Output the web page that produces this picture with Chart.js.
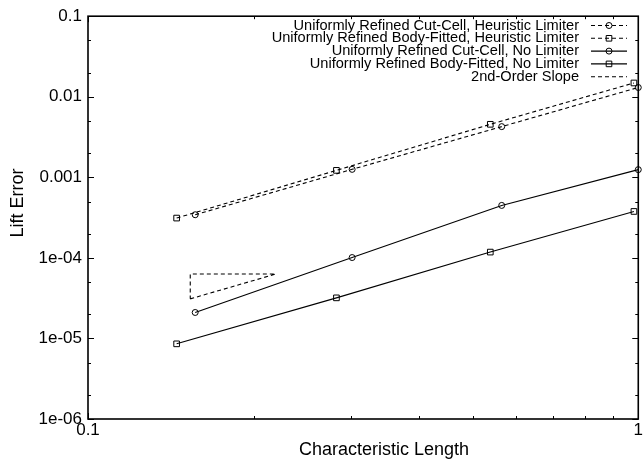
<!DOCTYPE html>
<html>
<head>
<meta charset="utf-8">
<script src="https://cdn.jsdelivr.net/npm/chart.js@4/dist/chart.umd.min.js"></script>
<style>
  html, body { margin: 0; padding: 0; background: #fff; }
  #wrap { width: 644px; height: 460px; }
</style>
</head>
<body>
<div id="wrap"><canvas id="lift-chart" width="644" height="460"></canvas></div>
<script>
// Characteristic length of each mesh (cut-cell and body-fitted runs)
const xCutCell = [0.1566, 0.302, 0.5647, 1.0];
const xBodyFitted = [0.1449, 0.2828, 0.5384, 0.982];

// Lift error per run
const liftCutCellHeuristic = [3.43e-4, 1.256e-3, 4.26e-3, 1.303e-2];
const liftBodyFittedHeuristic = [3.12e-4, 1.22e-3, 4.55e-3, 1.483e-2];
const liftCutCellNoLimiter = [2.1e-5, 1.01e-4, 4.48e-4, 1.245e-3];
const liftBodyFittedNoLimiter = [8.57e-6, 3.19e-5, 1.18e-4, 3.77e-4];

// Reference triangle for second order convergence
const slopeX = [0.1534, 0.2194, 0.1534, 0.1534];
const slopeY = [3.1e-5, 6.3e-5, 6.3e-5, 3.1e-5];

const seriesLabels = [
    'Uniformly Refined Cut-Cell, Heuristic Limiter',
    'Uniformly Refined Body-Fitted, Heuristic Limiter',
    'Uniformly Refined Cut-Cell, No Limiter',
    'Uniformly Refined Body-Fitted, No Limiter',
    '2nd-Order Slope'
];

// Axis ticks
const xTickValues = [0.1, 1];
const xTickLabels = ['0.1', '1'];
const yTickValues = [1e-6, 1e-5, 1e-4, 1e-3, 1e-2, 1e-1];
const yTickLabels = ['1e-06', '1e-05', '1e-04', '0.001', '0.01', '0.1'];
const xMinorMultiples = [2, 3, 4, 5, 6, 7, 8, 9];
const yMinorMultiples = [2, 5];

const FONT = "'Liberation Sans', Arial, Helvetica, sans-serif";
const DASH = [4, 3];

function toPoints(xs, ys) {
    return xs.map((x, i) => ({ x: x, y: ys[i] }));
}

function makeSeries(label, xs, ys, style, dashed) {
    return {
        label: label,
        data: toPoints(xs, ys),
        showLine: true,
        borderColor: '#000',
        borderWidth: 1.1,
        borderDash: dashed ? DASH : [],
        pointStyle: style,
        pointRadius: style === 'rect' ? 4 : 3,
        pointBorderWidth: 1,
        pointBorderColor: '#000',
        pointBackgroundColor: 'rgba(0,0,0,0)',
        clip: false
    };
}

// Frame, inward ticks on all four sides, axis titles and key
const gnuplotFrame = {
    id: 'gnuplotFrame',
    afterDraw(chart) {
        const ctx = chart.ctx;
        const area = chart.chartArea;
        const xs = chart.scales.x;
        const ys = chart.scales.y;
        ctx.save();
        ctx.strokeStyle = '#000';

        // x ticks: decades long, 2..9 short
        ctx.lineWidth = 1;
        ctx.beginPath();
        for (let d = -1; d <= 0; d++) {
            const base = Math.pow(10, d);
            const px = Math.round(xs.getPixelForValue(base)) + 0.5;
            ctx.moveTo(px, area.bottom); ctx.lineTo(px, area.bottom - 6);
            ctx.moveTo(px, area.top); ctx.lineTo(px, area.top + 6);
            if (d < 0) {
                xMinorMultiples.forEach(m => {
                    const p = Math.round(xs.getPixelForValue(m * base)) + 0.5;
                    ctx.moveTo(p, area.bottom); ctx.lineTo(p, area.bottom - 3);
                    ctx.moveTo(p, area.top); ctx.lineTo(p, area.top + 3);
                });
            }
        }
        // y ticks: decades long, 2 and 5 short
        for (let d = -6; d <= -1; d++) {
            const base = Math.pow(10, d);
            const py = Math.round(ys.getPixelForValue(base)) + 0.5;
            ctx.moveTo(area.left, py); ctx.lineTo(area.left + 6, py);
            ctx.moveTo(area.right, py); ctx.lineTo(area.right - 6, py);
            if (d < -1) {
                yMinorMultiples.forEach(m => {
                    const p = Math.round(ys.getPixelForValue(m * base)) + 0.5;
                    ctx.moveTo(area.left, p); ctx.lineTo(area.left + 3, p);
                    ctx.moveTo(area.right, p); ctx.lineTo(area.right - 3, p);
                });
            }
        }
        ctx.stroke();

        // border
        ctx.lineWidth = 1.6;
        ctx.strokeRect(area.left, area.top, area.right - area.left, area.bottom - area.top);

        // axis titles
        ctx.fillStyle = '#000';
        ctx.font = '18px ' + FONT;
        ctx.textAlign = 'center';
        ctx.textBaseline = 'middle';
        ctx.fillText('Characteristic Length', 384, 450);
        ctx.save();
        ctx.translate(18.5, 203);
        ctx.rotate(-Math.PI / 2);
        ctx.fillText('Lift Error', 0, 0);
        ctx.restore();

        // key, top right, text right aligned with line sample after it
        ctx.font = '14.6px ' + FONT;
        ctx.textAlign = 'right';
        chart.data.datasets.forEach((ds, i) => {
            const y = 25.5 + i * 12.8;
            ctx.fillText(seriesLabels[i], 579, y);
            ctx.lineWidth = 1.1;
            ctx.setLineDash(ds.borderDash);
            ctx.beginPath();
            ctx.moveTo(591, y); ctx.lineTo(627, y);
            ctx.stroke();
            ctx.setLineDash([]);
            ctx.lineWidth = 1;
            if (ds.pointRadius > 0) {
                ctx.beginPath();
                if (ds.pointStyle === 'rect') {
                    ctx.rect(606.2, y - 2.8, 5.6, 5.6);
                } else {
                    ctx.arc(609, y, 3, 0, Math.PI * 2);
                }
                ctx.stroke();
            }
        });
        ctx.restore();
    }
};

const slopeSeries = {
    label: seriesLabels[4],
    data: toPoints(slopeX, slopeY),
    showLine: true,
    borderColor: '#000',
    borderWidth: 1.1,
    borderDash: DASH,
    pointRadius: 0,
    clip: false
};

new Chart(document.getElementById('lift-chart'), {
    type: 'scatter',
    data: {
        datasets: [
            makeSeries(seriesLabels[0], xCutCell, liftCutCellHeuristic, 'circle', true),
            makeSeries(seriesLabels[1], xBodyFitted, liftBodyFittedHeuristic, 'rect', true),
            makeSeries(seriesLabels[2], xCutCell, liftCutCellNoLimiter, 'circle', false),
            makeSeries(seriesLabels[3], xBodyFitted, liftBodyFittedNoLimiter, 'rect', false),
            slopeSeries
        ]
    },
    options: {
        responsive: false,
        animation: false,
        layout: { padding: { top: 14, right: 3, left: 0, bottom: 0 } },
        plugins: {
            legend: { display: false },
            tooltip: { enabled: false }
        },
        scales: {
            x: {
                type: 'logarithmic',
                min: 0.1,
                max: 1,
                grid: { display: false, drawTicks: false },
                border: { display: false },
                afterBuildTicks: function(scale) {
                    scale.ticks = xTickValues.map(v => ({ value: v }));
                },
                afterFit: function(scale) { scale.height = 41; },
                ticks: {
                    color: '#000',
                    padding: 1,
                    maxRotation: 0,
                    font: { family: FONT, size: 17 },
                    callback: function(value) {
                        const i = xTickValues.indexOf(value);
                        return i >= 0 ? xTickLabels[i] : '';
                    }
                }
            },
            y: {
                type: 'logarithmic',
                min: 1e-6,
                max: 0.1,
                grid: { display: false, drawTicks: false },
                border: { display: false },
                afterBuildTicks: function(scale) {
                    scale.ticks = yTickValues.map(v => ({ value: v }));
                },
                afterFit: function(scale) { scale.width = 88; },
                ticks: {
                    color: '#000',
                    padding: 6,
                    font: { family: FONT, size: 17 },
                    callback: function(value) {
                        const i = yTickValues.findIndex(v => Math.abs(v - value) / v < 1e-9);
                        return i >= 0 ? yTickLabels[i] : '';
                    }
                }
            }
        }
    },
    plugins: [gnuplotFrame]
});
</script>
</body>
</html>
